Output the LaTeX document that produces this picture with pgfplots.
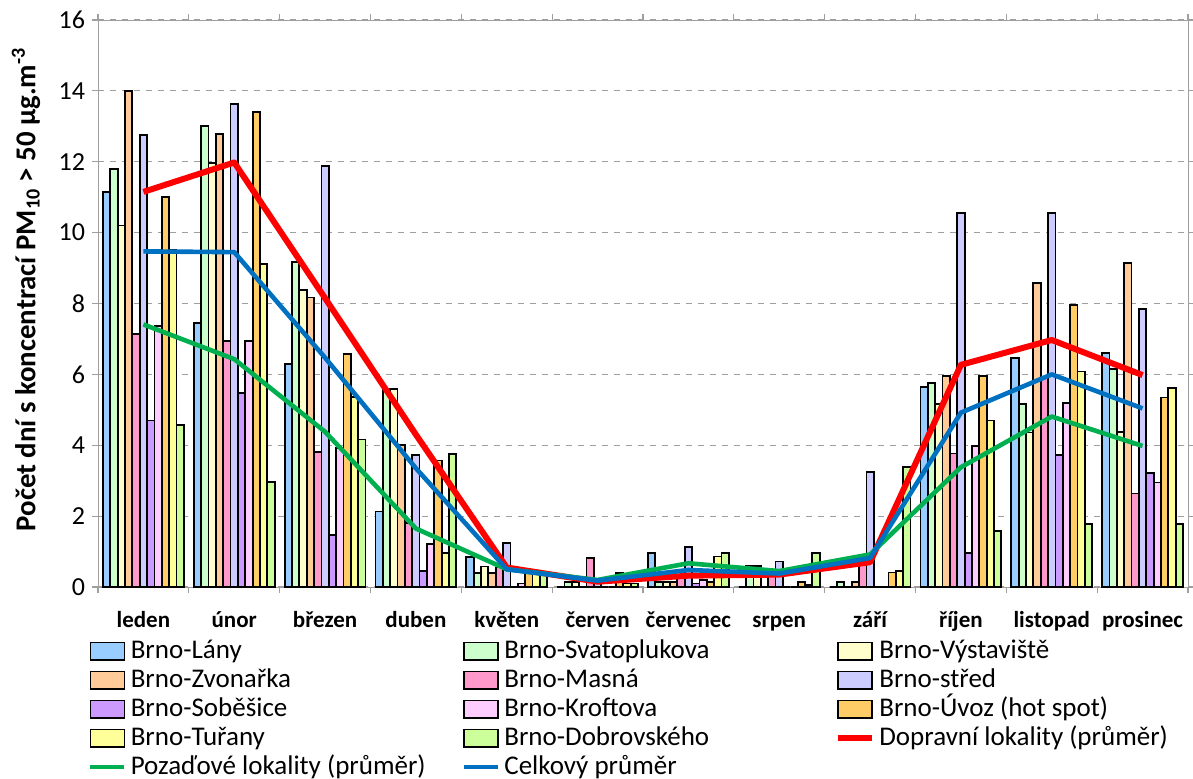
\documentclass[border=0pt]{standalone}
\usepackage{pgfplots}
\pgfplotsset{compat=1.18}
\usepackage{fontspec}
\setmainfont{Carlito}

\definecolor{cLany}{HTML}{99CCFF}
\definecolor{cSvat}{HTML}{CCFFCC}
\definecolor{cVyst}{HTML}{FFFFCC}
\definecolor{cZvon}{HTML}{FFCC99}
\definecolor{cMasna}{HTML}{FF99CC}
\definecolor{cStred}{HTML}{CCCCFF}
\definecolor{cSob}{HTML}{CC99FF}
\definecolor{cKroft}{HTML}{FFCCFF}
\definecolor{cUvoz}{HTML}{FFCC66}
\definecolor{cTur}{HTML}{FFFF99}
\definecolor{cDobr}{HTML}{CCFF99}
\definecolor{cRed}{HTML}{FF0000}
\definecolor{cGreen}{HTML}{00B050}
\definecolor{cBlue}{HTML}{0070C0}

\pgfplotsset{
  barleg/.style={legend image code/.code={\draw[##1,draw=black,line width=0.9pt] (0pt,-4.3pt) rectangle (17pt,4.3pt);}},
  lineleg/.style={legend image code/.code={\draw[##1] (0pt,0pt) -- (17pt,0pt);}},
  bar/.style={fill=#1, draw=black, line width=0.9pt, barleg},
}
% fixed-width legend cell
\newcommand{\lc}[1]{\makebox[159.5pt][l]{#1}}

\begin{document}
\begin{tikzpicture}
\begin{axis}[
  name=ax,
  scale only axis, width=545pt, height=283.5pt,
  xmin=-0.5, xmax=11.5, ymin=0, ymax=16,
  ybar=0pt, bar width=0.081,
  axis line style={gray!75},
  ymajorgrids, grid style={dashed, gray!75, line width=0.6pt},
  ytick={0,2,...,16},
  tick align=outside,
  major tick length=3pt,
  minor tick length=3pt,
  tick style={gray!75, line width=0.6pt},
  xtick={0,...,11},
  major x tick style={draw=none},
  minor xtick={-0.5,0.5,...,11.5},
  xticklabels={leden,únor,březen,duben,květen,červen,červenec,srpen,září,říjen,listopad,prosinec},
  x tick label style={font=\bfseries\fontsize{11.5}{12}\selectfont, yshift=-5pt, text height=8.5pt, text depth=2.5pt},
  y tick label style={font=\fontsize{13}{13}\selectfont},
  /pgf/number format/assume math mode=true,
  every axis y label/.style={at={(axis description cs:-0.066,0.525)}, rotate=90, anchor=center},
  ylabel={\bfseries\fontsize{14.4}{14.4}\selectfont Počet dní s koncentrací PM\textsubscript{10} > 50 μg.m\textsuperscript{-3}},
  legend columns=3,
  legend cell align=left,
  legend style={at={(axis description cs:-0.009,-0.092)}, anchor=north west,
    draw=none, fill=none, inner sep=0pt, outer sep=0pt,
    font=\fontsize{13.5}{13.5}\selectfont,
    nodes={inner xsep=2pt, inner ysep=0pt, text height=9.5pt, text depth=2.5pt},
    row sep=2.5pt,
    /tikz/every even column/.append style={column sep=4pt}},
]
\addplot[bar=cLany] coordinates {(0,11.15) (1,7.46) (2,6.3) (3,2.13) (4,0.84) (5,0) (6,0.97) (7,0) (8,0) (9,5.65) (10,6.47) (11,6.61)};
\addplot[bar=cSvat] coordinates {(0,11.8) (1,13.0) (2,9.17) (3,5.58) (4,0.39) (5,0.15) (6,0.15) (7,0.59) (8,0.15) (9,5.75) (10,5.16) (11,6.15)};
\addplot[bar=cVyst] coordinates {(0,10.2) (1,11.96) (2,8.37) (3,5.58) (4,0.58) (5,0.15) (6,0.15) (7,0.59) (8,0) (9,5.16) (10,4.36) (11,4.37)};
\addplot[bar=cZvon] coordinates {(0,14.0) (1,12.78) (2,8.17) (3,4.0) (4,0.39) (5,0) (6,0.15) (7,0) (8,0.15) (9,5.95) (10,8.57) (11,9.15)};
\addplot[bar=cMasna] coordinates {(0,7.14) (1,6.94) (2,3.8) (3,1.8) (4,0.55) (5,0.81) (6,0.3) (7,0.48) (8,0.75) (9,3.77) (10,5.9) (11,2.64)};
\addplot[bar=cStred] coordinates {(0,12.75) (1,13.62) (2,11.88) (3,3.73) (4,1.24) (5,0.1) (6,1.12) (7,0.72) (8,3.25) (9,10.56) (10,10.56) (11,7.85)};
\addplot[bar=cSob] coordinates {(0,4.7) (1,5.48) (2,1.46) (3,0.45) (4,0) (5,0) (6,0.1) (7,0) (8,0) (9,0.95) (10,3.73) (11,3.21)};
\addplot[bar=cKroft] coordinates {(0,7.37) (1,6.95) (2,3.93) (3,1.21) (4,0.1) (5,0) (6,0.2) (7,0) (8,0) (9,3.98) (10,5.2) (11,2.95)};
\addplot[bar=cUvoz] coordinates {(0,11.0) (1,13.4) (2,6.57) (3,3.57) (4,0.46) (5,0.4) (6,0.14) (7,0.15) (8,0.41) (9,5.95) (10,7.96) (11,5.35)};
\addplot[bar=cTur] coordinates {(0,9.5) (1,9.11) (2,5.37) (3,0.96) (4,0.46) (5,0.1) (6,0.86) (7,0.06) (8,0.46) (9,4.7) (10,6.08) (11,5.61)};
\addplot[bar=cDobr] coordinates {(0,4.57) (1,2.96) (2,4.16) (3,3.76) (4,0.4) (5,0.1) (6,0.97) (7,0.97) (8,3.38) (9,1.59) (10,1.77) (11,1.77)};
\addplot[sharp plot, mark=none, draw=cRed, line width=3pt, line join=round, lineleg] coordinates {(0,11.15) (1,11.98) (2,8.15) (3,4.3) (4,0.55) (5,0.15) (6,0.32) (7,0.35) (8,0.7) (9,6.27) (10,6.97) (11,5.98)};
\addplot[sharp plot, mark=none, draw=cGreen, line width=2.3pt, line join=round, lineleg] coordinates {(0,7.41) (1,6.43) (2,4.38) (3,1.65) (4,0.5) (5,0.2) (6,0.67) (7,0.45) (8,0.92) (9,3.38) (10,4.81) (11,3.98)};
\addplot[sharp plot, mark=none, draw=cBlue, line width=2.3pt, line join=round, lineleg] coordinates {(0,9.47) (1,9.45) (2,6.47) (3,3.35) (4,0.5) (5,0.18) (6,0.48) (7,0.38) (8,0.82) (9,4.92) (10,6.0) (11,5.04)};
\legend{\lc{Brno-Lány},\lc{Brno-Svatoplukova},\lc{Brno-Výstaviště},\lc{Brno-Zvonařka},\lc{Brno-Masná},\lc{Brno-střed},\lc{Brno-Soběšice},\lc{Brno-Kroftova},\lc{Brno-Úvoz (hot spot)},\lc{Brno-Tuřany},\lc{Brno-Dobrovského},\lc{Dopravní lokality (průměr)},\lc{Pozaďové lokality (průměr)},\lc{Celkový průměr}}
\end{axis}
\pgfresetboundingbox
\path[use as bounding box] ([xshift=-49pt,yshift=-95.5pt]ax.south west) rectangle ([xshift=2.5pt,yshift=10pt]ax.north east);
\end{tikzpicture}
\end{document}
